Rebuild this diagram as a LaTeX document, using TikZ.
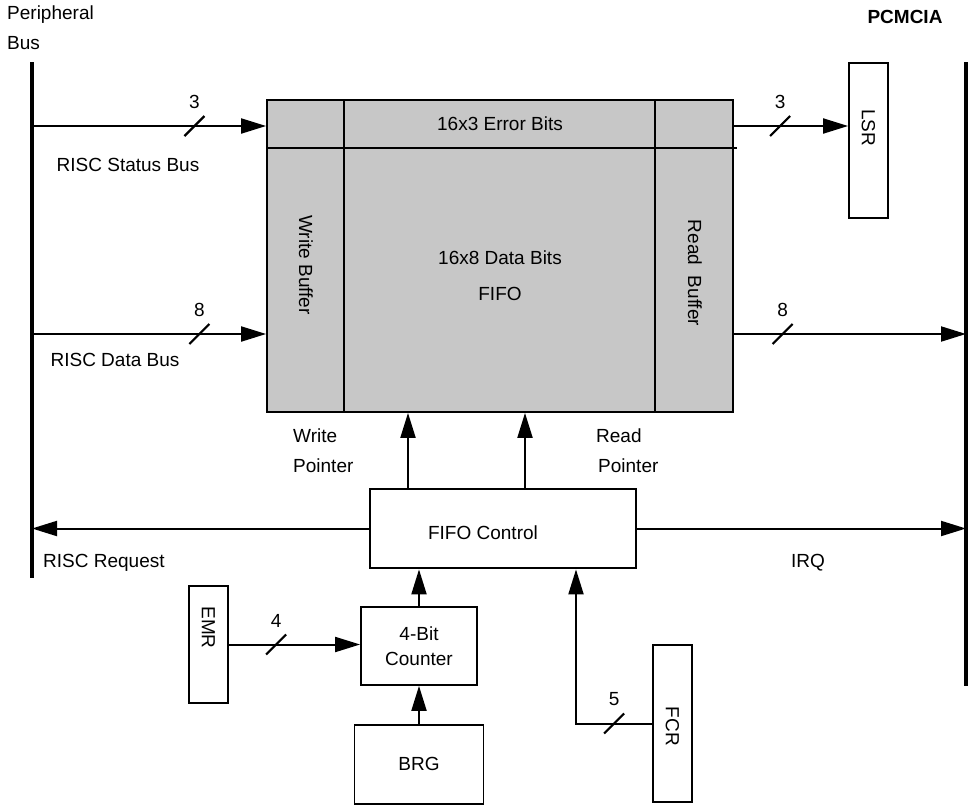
\documentclass[tikz,border=0pt]{standalone}
\usepackage{fontspec}
\setmainfont{Liberation Sans}
\usetikzlibrary{arrows.meta,positioning}

% bus width mark: slash plus bit count
\newcommand{\bitwidth}[2]{%
  \draw[line width=2.2pt] ([shift={(-10pt,-10pt)}]#1) -- ([shift={(10pt,10pt)}]#1);
  \node at ([yshift=24pt]#1) {#2};}

\begin{document}
\begin{tikzpicture}[
  x=1pt, y=-1pt,
  every node/.style={font=\fontsize{19}{30}\selectfont, inner sep=0pt},
  reg/.style={draw, line width=1.8pt, minimum width=39pt},
  blk/.style={draw, line width=1.8pt, align=center},
  bus/.style={line width=3.6pt},
  arr/.style={line width=2pt, -{Triangle[length=25pt,width=15pt]}},
]
  \useasboundingbox (0,0) rectangle (970,806);

  % Buses
  \coordinate (pbtop) at (32,62);
  \coordinate (pctop) at (966,62);
  \draw[bus] (pbtop) -- (32,578);
  \draw[bus] (pctop) -- (966,686);
  \node[anchor=west, align=left] at (7,28) {Peripheral\\Bus};
  \node[font=\fontsize{19}{20}\selectfont\bfseries] at (905,17) {PCMCIA};

  % FIFO array
  \node[draw, line width=1.8pt, fill=black!22, minimum width=466pt, minimum height=312pt] (fifo) at (500,256) {};
  \draw[line width=1.6pt] (344,100) -- (344,412) (655,100) -- (655,412);
  \draw[line width=2.6pt] (267,148) -- (737,148);
  \node at (500,124) {16x3 Error Bits};
  \node at (500,258) {16x8 Data Bits};
  \node at (500,294) {FIFO};
  \node[rotate=-90] at (306,265) {Write Buffer};
  \node[rotate=-90] at (695,273) {Read\ \ Buffer};

  % Registers and control blocks
  \node[reg, minimum height=155pt] (lsr) at (868.5,140.5) {};
  \node[rotate=-90] at ([yshift=13pt]lsr.center) {LSR};
  \node[draw, line width=2.8pt, minimum width=266pt, minimum height=79pt,
        label={[xshift=-20pt,yshift=-4pt]center:FIFO Control}] (ctl) at (503,528.5) {};
  \node[blk, minimum width=116pt, minimum height=78pt,
        font=\fontsize{19}{25}\selectfont] (cnt) at (419,646) {4-Bit\\Counter};
  \node[blk, minimum width=129pt, minimum height=79pt, below=38pt of cnt] (brg) {BRG};
  \node[reg, minimum height=117pt] (emr) at (208.5,644.5) {};
  \node[rotate=-90] at ([yshift=17pt]emr.center) {EMR};
  \node[reg, minimum height=157pt] (fcr) at (672.5,723.5) {};
  \node[rotate=-90] at ([yshift=-3pt]fcr.center) {FCR};

  % Data paths
  \coordinate (stsin) at (32,126);
  \coordinate (datin) at (32,334);
  \draw[arr] (stsin) -- coordinate[pos=0.694] (w1) (stsin -| fifo.west);
  \draw[arr] (datin) -- coordinate[pos=0.715] (w2) (datin -| fifo.west);
  \draw[arr] (stsin -| fifo.east) -- coordinate[pos=0.405] (w3) (stsin -| lsr.west);
  \draw[arr] (datin -| fifo.east) -- coordinate[pos=0.21] (w4) (datin -| pctop);
  \bitwidth{w1}{3}
  \bitwidth{w2}{8}
  \bitwidth{w3}{3}
  \bitwidth{w4}{8}
  \node at (128,165) {RISC Status Bus};
  \node at (115,360) {RISC Data Bus};

  % Pointers and control
  \draw[arr] ([xshift=-95pt]ctl.north) -- ([xshift=-95pt]ctl.north |- fifo.south);
  \draw[arr] ([xshift=22pt]ctl.north) -- ([xshift=22pt]ctl.north |- fifo.south);
  \node[anchor=west, align=left] at (293,451) {Write\\Pointer};
  \node[anchor=west, align=left] at (596,451) {Read\\\hspace{2pt}Pointer};
  \draw[arr] (ctl.west) -- (ctl.west -| pbtop);
  \draw[arr] (ctl.east) -- (ctl.east -| pctop);
  \node[anchor=west] at (43,563) {RISC Request};
  \node at (808,563) {IRQ};

  \draw[arr] (cnt.north) -- (cnt.north |- ctl.south);
  \draw[arr] (cnt.south |- brg.north) -- (cnt.south);
  \draw[arr] (emr.east) -- coordinate[pos=0.36] (w5) (emr.east -| cnt.west);
  \draw[arr] (fcr.west) -| coordinate[pos=0.25] (w6) ([xshift=73pt]ctl.south);
  \bitwidth{w5}{4}
  \bitwidth{w6}{5}
\end{tikzpicture}
\end{document}
